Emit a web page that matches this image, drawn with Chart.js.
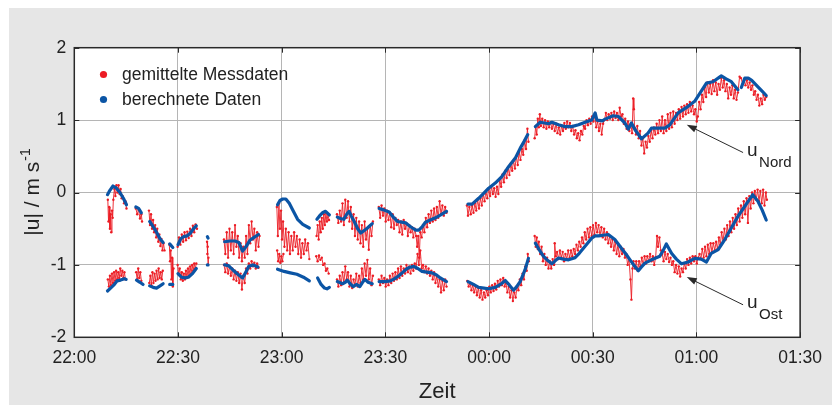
<!DOCTYPE html>
<html>
<head>
<meta charset="utf-8">
<script src="https://cdn.jsdelivr.net/npm/chart.js@4/dist/chart.umd.min.js"></script>
<style>
  html, body { margin: 0; padding: 0; background: #fff; }
  #wrap { width: 832px; height: 405px; }
</style>
</head>
<body>
<div id="wrap"><canvas id="chart" width="832" height="405"></canvas></div>
<script>
// time axis: minutes after 22:00
const xTickLabels = ["22:00", "22:30", "23:00", "23:30", "00:00", "00:30", "01:00", "01:30"];
const yTickLabels = { "2": "2", "1": "1", "0": "0", "-1": "-1", "-2": "-2" };

// berechnete Daten, Nord-Komponente (null = Lücke)
const calcNord = [
  [9.6,-0.03],[10.3,0.03],[11.2,0.09],[12.2,0.06],[13.2,0.0],[14.2,-0.08],[15.1,-0.17], null,
  [17.8,-0.2],[18.6,-0.22],[19.4,-0.28], null,
  [21.8,-0.4],[22.8,-0.47],[23.8,-0.55],[24.8,-0.64],[25.7,-0.69], null,
  [27.6,-0.71],[28.5,-0.76], null,
  [30.0,-0.72],[30.8,-0.64],[31.6,-0.61],[32.6,-0.6],[33.6,-0.56],[34.5,-0.5],[35.3,-0.46], null,
  [38.5,-0.61],[38.7,-0.63], null,
  [43.5,-0.68],[45.0,-0.67],[46.5,-0.67],[47.6,-0.69],[48.7,-0.81],[49.8,-0.74],[50.8,-0.66],[52.0,-0.62],[53.3,-0.58], null,
  [58.8,-0.17],[59.5,-0.11],[60.3,-0.09],[61.2,-0.09],[62.2,-0.15],[63.2,-0.24],[64.6,-0.37],[66.1,-0.44],[68.0,-0.49], null,
  [70.2,-0.37],[71.0,-0.32],[71.8,-0.28],[72.7,-0.26],[73.8,-0.31], null,
  [76.1,-0.34],[77.0,-0.36],[78.0,-0.37],[78.8,-0.3],[79.5,-0.26],[80.2,-0.33],[81.0,-0.40],[82.0,-0.5],[82.9,-0.56],[84.0,-0.52],[84.8,-0.49],[86.2,-0.43], null,
  [88.2,-0.22],[89.5,-0.24],[91.1,-0.27],[92.3,-0.34],[93.5,-0.40],[94.7,-0.41],[95.9,-0.42],[97.5,-0.48],[98.8,-0.52],[99.7,-0.52],[100.7,-0.47],[101.6,-0.41],[103.0,-0.38],[104.5,-0.35],[106.0,-0.31],[107.7,-0.26], null,
  [113.9,-0.16],[115.1,-0.16],[117.0,-0.08],[118.5,-0.01],[119.9,0.06],[121.8,0.13],[123.7,0.22],[125.7,0.36],[127.6,0.475],[129.0,0.61],[130.2,0.71],[131.2,0.80], null,
  [133.4,0.91],[134.8,0.97],[136.1,0.96],[137.2,0.95],[138.2,0.97],[140.1,0.935],[142.0,0.91],[143.9,0.91],[145.9,0.935],[147.8,0.97],[149.7,1.0],[150.7,1.10],[151.2,1.0],[152.9,0.99],[153.4,1.01],[155.9,1.06],[157.4,1.05],[159.3,0.96],[160.3,0.875],[161.2,0.96],[162.2,0.87],[164.1,0.74],[166.0,0.82],[167.0,0.89],[168.5,0.89],[170.9,0.89],[172.3,0.935],[174.7,1.10],[177.6,1.19],[179.5,1.26],[181.4,1.40],[182.9,1.51],[184.8,1.53],[187.2,1.61],[188.6,1.57],[190.1,1.53],[192.0,1.42], null,
  [193.0,1.45],[194.0,1.58],[195.0,1.58],[196.0,1.55],[197.8,1.46],[199.0,1.40],[200.2,1.34]
];

// berechnete Daten, Ost-Komponente
const calcOst = [
  [9.6,-1.36],[10.5,-1.32],[11.4,-1.28],[12.4,-1.22],[13.4,-1.21],[14.5,-1.19],[15.0,-1.2], null,
  [18.0,-1.21],[19.0,-1.24],[19.9,-1.27], null,
  [21.8,-1.29],[22.8,-1.31],[23.8,-1.32],[24.8,-1.29],[25.7,-1.26], null,
  [27.6,-1.27],[28.5,-1.27], null,
  [30.0,-1.12],[31.0,-1.17],[32.0,-1.18],[33.0,-1.17],[34.2,-1.12],[35.3,-1.05], null,
  [38.5,-1.0],[38.7,-1.0], null,
  [43.5,-1.0],[44.6,-1.01],[45.9,-1.07],[47.3,-1.13],[48.7,-1.18],[49.6,-1.1],[50.5,-1.02],[51.7,-1.0],[53.1,-1.03], null,
  [58.8,-1.06],[60.7,-1.09],[62.5,-1.11],[64.4,-1.13],[66.3,-1.17],[68.0,-1.22], null,
  [70.4,-1.18],[71.4,-1.27],[72.4,-1.32],[73.1,-1.33],[73.8,-1.31], null,
  [76.1,-1.23],[77.6,-1.26],[78.4,-1.24],[79.0,-1.21],[79.8,-1.26],[80.7,-1.30],[81.6,-1.27],[82.6,-1.30],[83.4,-1.24],[84.1,-1.2],[85.0,-1.24],[86.2,-1.26], null,
  [88.2,-1.23],[89.8,-1.23],[91.5,-1.22],[92.7,-1.19],[93.9,-1.15],[95.1,-1.1],[96.3,-1.05],[97.3,-1.03],[98.2,-1.02],[99.4,-1.05],[100.6,-1.09],[102.0,-1.10],[103.5,-1.11],[104.8,-1.14],[105.9,-1.18],[107.7,-1.23], null,
  [113.9,-1.23],[115.5,-1.27],[117.0,-1.31],[118.5,-1.32],[119.9,-1.33],[121.8,-1.31],[123.3,-1.27],[124.7,-1.215],[125.9,-1.28],[127.1,-1.35],[128.0,-1.3],[129.0,-1.23],[129.7,-1.15],[130.4,-1.07],[131.4,-0.91], null,
  [133.4,-0.70],[134.5,-0.79],[135.7,-0.88],[137.0,-0.94],[138.2,-0.985],[139.2,-0.94],[140.1,-0.905],[141.5,-0.92],[143.0,-0.93],[144.9,-0.9],[146.1,-0.84],[147.3,-0.77],[148.5,-0.7],[149.7,-0.63],[150.7,-0.6],[151.6,-0.6],[153.0,-0.59],[154.5,-0.58],[156.4,-0.65],[158.3,-0.77],[159.6,-0.85],[160.8,-0.93],[162.0,-1.01],[163.2,-1.08],[164.1,-1.03],[165.1,-0.975],[167.0,-0.93],[169.4,-0.88],[170.4,-0.8],[171.3,-0.71],[172.8,-0.84],[174.2,-0.92],[175.7,-0.985],[177.6,-0.96],[179.5,-0.91],[181.4,-0.92],[182.9,-0.96],[184.3,-0.84],[186.3,-0.79],[188.2,-0.65],[190.1,-0.49],[192.0,-0.33],[194.0,-0.19],[196.3,-0.03],[197.8,-0.12],[199.0,-0.24],[200.2,-0.38]
];

// gemittelte Messdaten, Nord
const measNord = [
  [9.7,-0.1],[9.9,-0.4],[10.1,-0.2],[10.3,-0.5],[10.5,-0.3],[10.7,-0.55],[10.9,-0.25],[11.1,-0.35],[11.3,-0.1],[11.6,0.05],[11.9,-0.05],[12.2,0.1],[12.5,0.0],[12.8,0.1],[13.1,-0.02],[13.4,0.05],[13.7,-0.08],[14.0,-0.05],[14.4,-0.15],[14.8,-0.12],[15.1,-0.22], null,
  [17.8,-0.22],[18.2,-0.3],[18.6,-0.24],[19.0,-0.36],[19.4,-0.3],[19.6,-0.4], null,
  [21.6,-0.25],[21.9,-0.45],[22.2,-0.3],[22.5,-0.5],[22.8,-0.38],[23.1,-0.55],[23.4,-0.45],[23.7,-0.62],[24.0,-0.5],[24.3,-0.68],[24.6,-0.58],[24.9,-0.74],[25.2,-0.64],[25.5,-0.8],[25.8,-0.7],[26.1,-0.8], null,
  [27.5,-0.72],[27.7,-0.95],[27.9,-0.8],[28.1,-1.2],[28.3,-0.9],[28.5,-1.3],[28.7,-1.05], null,
  [29.9,-0.75],[30.3,-0.62],[30.7,-0.72],[31.1,-0.58],[31.5,-0.68],[31.9,-0.55],[32.3,-0.66],[32.7,-0.54],[33.1,-0.63],[33.5,-0.5],[33.9,-0.6],[34.3,-0.46],[34.7,-0.55],[35.1,-0.44],[35.5,-0.5], null,
  [38.4,-0.68],[38.5,-0.85],[38.6,-0.75],[38.7,-1.0],[38.8,-0.9], null,
  [43.3,-0.65],[43.7,-0.85],[44.1,-0.55],[44.5,-0.9],[44.9,-0.5],[45.3,-0.8],[45.7,-0.55],[46.1,-0.85],[46.5,-0.45],[46.9,-0.75],[47.3,-0.6],[47.7,-0.9],[48.1,-0.7],[48.5,-0.95],[48.9,-0.75],[49.3,-0.9],[49.7,-0.6],[50.1,-0.85],[50.5,-0.45],[50.9,-0.7],[51.3,-0.4],[51.7,-0.65],[52.1,-0.5],[52.5,-0.8],[52.9,-0.55],[53.3,-0.75],[53.6,-0.6], null,
  [58.6,-0.2],[58.9,-0.6],[59.2,-0.15],[59.5,-0.5],[59.8,-0.25],[60.1,-0.65],[60.4,-0.4],[60.8,-0.75],[61.2,-0.5],[61.6,-0.8],[62.0,-0.55],[62.4,-0.85],[62.8,-0.6],[63.2,-0.8],[63.6,-0.55],[64.0,-0.75],[64.4,-0.6],[64.8,-0.85],[65.2,-0.65],[65.6,-0.9],[66.0,-0.7],[66.4,-0.85],[66.8,-0.65],[67.2,-0.8],[67.6,-0.7],[68.0,-0.92], null,
  [70.1,-0.6],[70.4,-0.45],[70.7,-0.65],[71.0,-0.4],[71.3,-0.55],[71.6,-0.35],[71.9,-0.5],[72.2,-0.3],[72.5,-0.45],[72.8,-0.28],[73.1,-0.4],[73.4,-0.3],[73.7,-0.38], null,
  [76.0,-0.3],[76.4,-0.42],[76.8,-0.25],[77.2,-0.4],[77.6,-0.15],[78.0,-0.45],[78.4,-0.1],[78.8,-0.35],[79.2,-0.12],[79.6,-0.4],[80.0,-0.2],[80.4,-0.5],[80.8,-0.3],[81.2,-0.6],[81.6,-0.35],[82.0,-0.65],[82.4,-0.4],[82.8,-0.7],[83.2,-0.45],[83.6,-0.75],[84.0,-0.4],[84.4,-0.65],[84.8,-0.5],[85.2,-0.79],[85.6,-0.45],[86.0,-0.6],[86.4,-0.4], null,
  [88.1,-0.2],[88.5,-0.35],[88.9,-0.18],[89.3,-0.32],[89.7,-0.22],[90.1,-0.4],[90.5,-0.25],[90.9,-0.38],[91.3,-0.28],[91.7,-0.48],[92.1,-0.3],[92.5,-0.5],[92.9,-0.35],[93.3,-0.45],[93.7,-0.38],[94.1,-0.55],[94.5,-0.4],[94.9,-0.58],[95.3,-0.38],[95.7,-0.5],[96.1,-0.42],[96.5,-0.6],[96.9,-0.45],[97.3,-0.55],[97.7,-0.48],[98.1,-0.62],[98.5,-0.5],[98.9,-0.6],[99.2,-0.75],[99.5,-0.6],[99.8,-0.9],[100.1,-0.55],[100.5,-0.62],[100.9,-0.45],[101.3,-0.55],[101.7,-0.35],[102.1,-0.48],[102.5,-0.3],[102.9,-0.42],[103.3,-0.25],[103.7,-0.4],[104.1,-0.22],[104.5,-0.38],[104.9,-0.2],[105.3,-0.35],[105.7,-0.12],[106.1,-0.3],[106.5,-0.18],[106.9,-0.32],[107.3,-0.2],[107.7,-0.28], null,
  [113.6,-0.18],[113.9,-0.32],[114.3,-0.2],[114.7,-0.3],[115.1,-0.18],[115.5,-0.28],[115.9,-0.15],[116.3,-0.25],[116.7,-0.1],[117.1,-0.22],[117.5,-0.08],[117.9,-0.18],[118.3,-0.02],[118.7,-0.12],[119.1,0.02],[119.5,-0.08],[119.9,0.05],[120.3,-0.05],[120.7,0.08],[121.1,-0.02],[121.5,0.06],[121.9,-0.06],[122.3,0.08],[122.7,-0.02],[123.1,0.18],[123.5,0.08],[123.9,0.25],[124.3,0.14],[124.7,0.3],[125.1,0.2],[125.5,0.35],[125.9,0.24],[126.3,0.4],[126.7,0.3],[127.1,0.44],[127.5,0.33],[127.9,0.5],[128.3,0.38],[128.7,0.56],[129.1,0.45],[129.5,0.6],[129.9,0.52],[130.3,0.72],[130.7,0.6],[131.1,0.88],[131.4,0.7], null,
  [133.2,0.75],[133.5,0.92],[133.8,0.8],[134.1,1.02],[134.4,0.9],[134.7,1.08],[135.0,0.92],[135.4,1.02],[135.8,0.9],[136.2,1.0],[136.6,0.88],[137.0,0.98],[137.4,0.9],[137.8,0.97],[138.2,0.88],[138.6,0.95],[139.0,0.85],[139.4,0.95],[139.8,0.82],[140.2,0.9],[140.6,0.8],[141.0,0.92],[141.4,0.85],[141.8,0.96],[142.2,0.88],[142.6,0.98],[143.0,0.9],[143.4,0.96],[143.8,0.85],[144.2,0.92],[144.6,0.8],[145.0,0.86],[145.4,0.75],[145.8,0.82],[146.2,0.72],[146.6,0.85],[147.0,0.8],[147.4,0.92],[147.8,0.88],[148.2,1.0],[148.6,0.93],[149.0,1.02],[149.4,0.95],[149.8,1.05],[150.2,0.98],[150.6,1.06],[151.0,0.9],[151.4,0.98],[151.8,0.85],[152.2,0.95],[152.6,0.8],[153.0,0.95],[153.4,1.0],[153.8,1.1],[154.2,1.0],[154.6,1.08],[155.0,1.02],[155.4,1.1],[155.8,1.0],[156.2,1.12],[156.6,1.03],[157.0,1.1],[157.4,1.0],[157.8,1.17],[158.2,1.05],[158.6,1.08],[159.0,0.95],[159.4,1.02],[159.8,0.88],[160.2,0.98],[160.6,0.85],[161.0,0.95],[161.4,0.82],[161.7,1.3],[161.9,1.15],[162.1,0.9],[162.5,0.8],[162.9,0.92],[163.3,0.75],[163.7,0.85],[164.1,0.65],[164.5,0.75],[164.9,0.54],[165.3,0.7],[165.7,0.62],[166.1,0.78],[166.5,0.7],[166.9,0.86],[167.3,0.75],[167.7,0.9],[168.1,0.8],[168.5,0.95],[168.9,0.82],[169.3,1.0],[169.7,0.85],[170.1,1.05],[170.5,0.82],[170.9,1.0],[171.3,0.85],[171.7,1.08],[172.1,0.88],[172.5,1.1],[172.9,0.9],[173.3,1.12],[173.7,0.95],[174.1,1.1],[174.5,1.0],[174.9,1.15],[175.3,1.02],[175.7,1.18],[176.1,1.05],[176.5,1.2],[176.9,1.08],[177.3,1.22],[177.7,1.1],[178.1,1.25],[178.5,1.12],[178.9,1.2],[179.3,1.08],[179.7,1.15],[180.1,0.98],[180.4,1.05],[180.8,1.25],[181.2,1.15],[181.6,1.35],[182.0,1.25],[182.4,1.45],[182.8,1.32],[183.2,1.52],[183.6,1.38],[184.0,1.5],[184.4,1.36],[184.8,1.55],[185.2,1.4],[185.6,1.52],[186.0,1.35],[186.4,1.5],[186.8,1.42],[187.2,1.58],[187.6,1.45],[188.0,1.55],[188.4,1.4],[188.8,1.5],[189.2,1.3],[189.6,1.45],[190.0,1.35],[190.4,1.48],[190.8,1.3],[191.2,1.42],[191.6,1.28],[192.0,1.38],[192.5,1.6],[192.9,1.58],[193.4,1.5],[193.8,1.56],[194.2,1.48],[194.6,1.55],[195.0,1.45],[195.4,1.52],[195.8,1.42],[196.2,1.48],[196.6,1.35],[197.0,1.4],[197.4,1.28],[197.8,1.35],[198.2,1.2],[198.6,1.3],[199.0,1.22],[199.4,1.35],[199.8,1.28],[200.2,1.32]
];

// gemittelte Messdaten, Ost
const measOst = [
  [9.7,-1.2],[10.0,-1.3],[10.3,-1.15],[10.6,-1.28],[10.9,-1.12],[11.2,-1.25],[11.5,-1.1],[11.8,-1.22],[12.1,-1.08],[12.4,-1.2],[12.7,-1.1],[13.0,-1.18],[13.3,-1.05],[13.6,-1.15],[13.9,-1.08],[14.2,-1.18],[14.5,-1.1],[14.8,-1.2], null,
  [17.9,-1.1],[18.2,-1.2],[18.5,-1.05],[18.8,-1.18],[19.1,-1.1],[19.4,-1.22], null,
  [21.7,-1.25],[22.0,-1.15],[22.3,-1.28],[22.6,-1.1],[22.9,-1.25],[23.2,-1.12],[23.5,-1.22],[23.8,-1.08],[24.1,-1.2],[24.4,-1.05],[24.7,-1.18],[25.0,-1.1],[25.3,-1.2],[25.6,-1.08], null,
  [29.9,-1.0],[30.2,-1.12],[30.5,-1.05],[30.8,-1.2],[31.1,-1.1],[31.4,-1.22],[31.7,-1.12],[32.0,-1.2],[32.3,-1.08],[32.6,-1.18],[32.9,-1.05],[33.2,-1.15],[33.5,-1.02],[33.8,-1.12],[34.1,-1.0],[34.4,-1.08],[34.7,-0.98],[35.0,-1.05],[35.3,-0.98], null,
  [43.3,-1.0],[43.7,-1.1],[44.1,-0.98],[44.5,-1.12],[44.9,-1.02],[45.3,-1.15],[45.7,-1.05],[46.1,-1.2],[46.5,-1.08],[46.9,-1.22],[47.3,-1.1],[47.7,-1.25],[48.1,-1.12],[48.5,-1.34],[48.9,-1.15],[49.3,-1.25],[49.7,-1.05],[50.1,-1.12],[50.5,-0.98],[50.9,-1.05],[51.3,-0.95],[51.7,-1.02],[52.1,-0.97],[52.5,-1.05],[52.9,-0.98],[53.3,-1.04], null,
  [58.7,-0.8],[59.0,-0.95],[59.3,-0.85],[59.6,-0.97],[59.9,-0.88],[60.2,-0.95],[60.5,-0.85], null,
  [70.0,-0.88],[70.4,-0.95],[70.8,-0.87],[71.2,-0.93],[71.6,-0.9],[72.0,-1.0],[72.4,-0.98],[72.8,-1.08],[73.2,-1.05],[73.6,-1.12], null,
  [76.0,-1.2],[76.4,-1.3],[76.8,-1.15],[77.2,-1.28],[77.6,-1.1],[78.0,-1.25],[78.4,-1.02],[78.8,-1.2],[79.2,-1.1],[79.6,-1.3],[80.0,-1.15],[80.4,-1.32],[80.8,-1.2],[81.2,-1.28],[81.6,-1.12],[82.0,-1.3],[82.4,-1.15],[82.8,-1.25],[83.2,-1.05],[83.6,-1.2],[84.0,-0.98],[84.4,-1.15],[84.8,-0.93],[85.2,-1.2],[85.6,-1.05],[86.0,-1.28],[86.4,-1.15], null,
  [88.1,-1.2],[88.5,-1.28],[88.9,-1.15],[89.3,-1.25],[89.7,-1.18],[90.1,-1.3],[90.5,-1.2],[90.9,-1.28],[91.3,-1.15],[91.7,-1.25],[92.1,-1.12],[92.5,-1.22],[92.9,-1.1],[93.3,-1.2],[93.7,-1.05],[94.1,-1.18],[94.5,-1.02],[94.9,-1.15],[95.3,-1.05],[95.7,-1.12],[96.1,-1.0],[96.5,-1.1],[96.9,-1.02],[97.3,-1.12],[97.7,-1.0],[98.1,-1.08],[98.5,-0.98],[98.9,-1.05],[99.3,-0.85],[99.7,-1.0],[100.1,-0.8],[100.5,-1.05],[100.9,-1.0],[101.3,-1.1],[101.7,-1.02],[102.1,-1.12],[102.5,-1.05],[102.9,-1.15],[103.3,-1.08],[103.7,-1.2],[104.1,-1.1],[104.5,-1.25],[104.9,-1.15],[105.3,-1.3],[105.7,-1.2],[106.1,-1.38],[106.5,-1.22],[106.9,-1.35],[107.3,-1.2],[107.7,-1.3], null,
  [113.7,-1.22],[114.1,-1.3],[114.5,-1.25],[114.9,-1.35],[115.3,-1.28],[115.7,-1.38],[116.1,-1.3],[116.5,-1.42],[116.9,-1.32],[117.3,-1.45],[117.7,-1.35],[118.1,-1.48],[118.5,-1.38],[118.9,-1.45],[119.3,-1.35],[119.7,-1.42],[120.1,-1.3],[120.5,-1.38],[120.9,-1.28],[121.3,-1.36],[121.7,-1.26],[122.1,-1.34],[122.5,-1.22],[122.9,-1.3],[123.3,-1.2],[123.7,-1.28],[124.1,-1.18],[124.5,-1.3],[124.9,-1.25],[125.3,-1.38],[125.7,-1.3],[126.1,-1.45],[126.5,-1.35],[126.9,-1.5],[127.3,-1.38],[127.7,-1.45],[128.1,-1.3],[128.5,-1.35],[128.9,-1.2],[129.3,-1.28],[129.7,-1.12],[130.1,-1.2],[130.5,-1.02],[130.9,-1.08],[131.2,-0.85],[131.5,-0.95], null,
  [133.2,-0.6],[133.5,-0.75],[133.8,-0.62],[134.1,-0.78],[134.4,-0.68],[134.8,-0.85],[135.2,-0.75],[135.6,-0.95],[136.0,-0.85],[136.4,-1.0],[136.8,-0.9],[137.2,-1.05],[137.6,-0.95],[138.0,-1.05],[138.4,-0.92],[138.8,-1.0],[139.0,-0.7],[139.3,-0.88],[139.7,-0.82],[140.1,-0.92],[140.5,-0.8],[140.9,-0.9],[141.3,-0.82],[141.7,-0.95],[142.1,-0.85],[142.5,-0.92],[142.9,-0.8],[143.3,-0.9],[143.7,-0.8],[144.1,-0.88],[144.5,-0.78],[144.9,-0.85],[145.3,-0.72],[145.7,-0.8],[146.1,-0.68],[146.5,-0.75],[146.9,-0.62],[147.3,-0.7],[147.7,-0.55],[148.1,-0.65],[148.5,-0.5],[148.9,-0.62],[149.3,-0.48],[149.7,-0.6],[150.1,-0.45],[150.5,-0.58],[150.9,-0.42],[151.3,-0.55],[151.7,-0.45],[152.1,-0.6],[152.5,-0.48],[152.9,-0.62],[153.3,-0.5],[153.7,-0.65],[154.1,-0.55],[154.5,-0.7],[154.9,-0.6],[155.3,-0.75],[155.7,-0.65],[156.1,-0.8],[156.5,-0.68],[156.9,-0.85],[157.3,-0.72],[157.7,-0.88],[158.1,-0.75],[158.5,-0.85],[158.9,-0.78],[159.3,-0.9],[159.7,-0.85],[160.1,-1.0],[160.5,-0.92],[160.9,-1.2],[161.2,-1.48],[161.5,-1.05],[161.8,-0.95],[162.2,-1.05],[162.6,-0.95],[163.0,-1.08],[163.4,-0.95],[163.8,-1.02],[164.2,-0.9],[164.6,-1.0],[165.0,-0.88],[165.4,-0.98],[165.8,-0.88],[166.2,-0.95],[166.6,-0.85],[167.0,-0.95],[167.4,-0.88],[167.8,-1.0],[168.2,-0.9],[168.6,-0.6],[168.9,-0.75],[169.3,-0.62],[169.7,-0.8],[170.1,-0.85],[170.5,-0.95],[170.9,-0.82],[171.3,-0.92],[171.7,-0.85],[172.1,-0.96],[172.5,-0.9],[172.9,-1.0],[173.3,-0.95],[173.7,-1.1],[174.1,-1.0],[174.5,-1.12],[174.9,-1.02],[175.3,-1.16],[175.7,-1.05],[176.1,-1.1],[176.5,-0.98],[176.9,-1.05],[177.3,-0.92],[177.7,-1.0],[178.1,-0.9],[178.5,-0.98],[178.9,-0.88],[179.3,-0.95],[179.7,-0.88],[180.1,-0.98],[180.5,-0.9],[180.9,-0.85],[181.3,-0.92],[181.7,-0.78],[182.1,-0.9],[182.5,-0.75],[182.9,-0.88],[183.3,-0.72],[183.7,-0.85],[184.1,-0.7],[184.5,-0.82],[184.9,-0.7],[185.3,-0.8],[185.7,-0.68],[186.1,-0.78],[186.5,-0.62],[186.9,-0.72],[187.3,-0.55],[187.7,-0.68],[188.1,-0.5],[188.5,-0.65],[188.9,-0.45],[189.3,-0.6],[189.7,-0.4],[190.1,-0.55],[190.5,-0.35],[190.9,-0.5],[191.3,-0.3],[191.7,-0.45],[192.1,-0.22],[192.5,-0.4],[192.9,-0.18],[193.3,-0.35],[193.7,-0.12],[194.1,-0.3],[194.5,-0.08],[194.9,-0.42],[195.3,-0.05],[195.7,-0.22],[196.1,0.0],[196.5,-0.15],[196.9,0.02],[197.3,-0.1],[197.7,0.04],[198.1,-0.12],[198.5,0.02],[198.9,-0.15],[199.3,0.04],[199.7,-0.18],[200.1,0.0],[200.4,-0.1]
];

// Pfeil-Beschriftungen: [Spitze], [Ende] in Datenkoordinaten
const arrowNord = { head: [177.2, 0.935], tail: [193.5, 0.552], sub: "Nord" };
const arrowOst = { head: [177.2, -1.168], tail: [193.5, -1.551], sub: "Ost" };

const FONT = "'Liberation Sans', Arial, sans-serif";
const RED = "#ec1c24";
const BLUE = "#0b55a5";
const TEXT = "#222";

function toPoints(list) {
  let last = 0;
  return list.map(p => {
    if (p === null) return { x: last, y: null };
    last = p[0];
    return { x: p[0], y: p[1] };
  });
}

function drawArrow(ctx, chart, a) {
  const xs = chart.scales.x, ys = chart.scales.y;
  const hx = xs.getPixelForValue(a.head[0]), hy = ys.getPixelForValue(a.head[1]);
  const tx = xs.getPixelForValue(a.tail[0]), ty = ys.getPixelForValue(a.tail[1]);
  const ang = Math.atan2(hy - ty, hx - tx);
  ctx.save();
  ctx.strokeStyle = "#2a2a2a";
  ctx.fillStyle = "#2a2a2a";
  ctx.lineWidth = 1;
  ctx.beginPath();
  ctx.moveTo(tx, ty);
  ctx.lineTo(hx - 6 * Math.cos(ang), hy - 6 * Math.sin(ang));
  ctx.stroke();
  ctx.beginPath();
  ctx.moveTo(hx, hy);
  ctx.lineTo(hx - 10 * Math.cos(ang) + 3.5 * Math.sin(ang), hy - 10 * Math.sin(ang) - 3.5 * Math.cos(ang));
  ctx.lineTo(hx - 10 * Math.cos(ang) - 3.5 * Math.sin(ang), hy - 10 * Math.sin(ang) + 3.5 * Math.cos(ang));
  ctx.closePath();
  ctx.fill();
  ctx.fillStyle = TEXT;
  ctx.textAlign = "left";
  ctx.textBaseline = "alphabetic";
  ctx.font = `19px ${FONT}`;
  ctx.fillText("u", tx + 4, ty + 3);
  ctx.font = `15px ${FONT}`;
  ctx.fillText(a.sub, tx + 16, ty + 14);
  ctx.restore();
}

const framePlugin = {
  id: "frame",
  beforeDraw(chart) {
    const { ctx, chartArea: a } = chart;
    ctx.save();
    ctx.fillStyle = "#fff";
    ctx.fillRect(0, 0, chart.width, chart.height);
    ctx.fillStyle = "#e6e6e6";
    ctx.fillRect(9, 8, chart.width - 9, chart.height - 8);
    ctx.fillStyle = "#fff";
    ctx.fillRect(a.left, a.top, a.right - a.left, a.bottom - a.top);
    ctx.restore();
  },
  afterDraw(chart) {
    const { ctx, chartArea: a, scales } = chart;
    ctx.save();
    // inward ticks
    ctx.strokeStyle = "#2a2a2a";
    ctx.lineWidth = 1;
    ctx.beginPath();
    scales.x.ticks.forEach(t => {
      const x = Math.round(scales.x.getPixelForValue(t.value)) + 0.5;
      ctx.moveTo(x, a.top); ctx.lineTo(x, a.top + 5);
      ctx.moveTo(x, a.bottom); ctx.lineTo(x, a.bottom - 5);
    });
    scales.y.ticks.forEach(t => {
      const y = Math.round(scales.y.getPixelForValue(t.value)) + 0.5;
      ctx.moveTo(a.left, y); ctx.lineTo(a.left + 5, y);
      ctx.moveTo(a.right, y); ctx.lineTo(a.right - 5, y);
    });
    ctx.stroke();
    // box
    ctx.lineWidth = 1.5;
    ctx.strokeRect(a.left, a.top, a.right - a.left, a.bottom - a.top);

    // legend
    ctx.textAlign = "left";
    ctx.textBaseline = "middle";
    ctx.font = `17.5px ${FONT}`;
    [[RED, "gemittelte Messdaten", 74.5], [BLUE, "berechnete Daten", 99.5]].forEach(([c, label, y]) => {
      ctx.fillStyle = c;
      ctx.beginPath();
      ctx.arc(103.5, y, 3.6, 0, Math.PI * 2);
      ctx.fill();
      ctx.fillStyle = TEXT;
      ctx.fillText(label, 122, y + 1);
    });

    // y title with superscript
    ctx.save();
    ctx.translate(39, (a.top + a.bottom) / 2);
    ctx.rotate(-Math.PI / 2);
    ctx.fillStyle = TEXT;
    ctx.textBaseline = "alphabetic";
    const main = "|u| / m s";
    ctx.font = `21px ${FONT}`;
    const w1 = ctx.measureText(main).width;
    ctx.font = `14px ${FONT}`;
    const w2 = ctx.measureText("-1").width;
    const x0 = -(w1 + w2) / 2;
    ctx.font = `21px ${FONT}`;
    ctx.fillText(main, x0, 0);
    ctx.font = `14px ${FONT}`;
    ctx.fillText("-1", x0 + w1 + 1, -9);
    ctx.restore();

    // x title
    ctx.fillStyle = TEXT;
    ctx.textAlign = "center";
    ctx.textBaseline = "alphabetic";
    ctx.font = `22px ${FONT}`;
    ctx.fillText("Zeit", (a.left + a.right) / 2, 398);

    drawArrow(ctx, chart, arrowNord);
    drawArrow(ctx, chart, arrowOst);
    ctx.restore();
  }
};

const redStyle = {
  showLine: true, spanGaps: false, borderColor: RED, borderWidth: 0.9,
  pointRadius: 1.2, pointBackgroundColor: RED, pointBorderWidth: 0, order: 2
};
const blueStyle = {
  showLine: true, spanGaps: false, borderColor: BLUE, borderWidth: 3.2,
  pointRadius: 0, borderCapStyle: "round", borderJoinStyle: "round", order: 1
};

new Chart(document.getElementById("chart"), {
  type: "scatter",
  data: {
    datasets: [
      { label: "gemittelte Messdaten Nord", data: toPoints(measNord), ...redStyle },
      { label: "gemittelte Messdaten Ost", data: toPoints(measOst), ...redStyle },
      { label: "berechnete Daten Nord", data: toPoints(calcNord), ...blueStyle },
      { label: "berechnete Daten Ost", data: toPoints(calcOst), ...blueStyle },
    ],
  },
  options: {
    responsive: false,
    animation: false,
    layout: { padding: { top: 47.7, right: 30, left: 0, bottom: 0 } },
    plugins: { legend: { display: false }, tooltip: { enabled: false } },
    scales: {
      x: {
        type: "linear", min: 0, max: 210,
        afterFit: s => { s.height = 67.7; },
        border: { display: false },
        grid: { color: "#b5b5b5", lineWidth: 1, drawTicks: false },
        ticks: {
          stepSize: 30, autoSkip: false, maxRotation: 0, padding: 10,
          color: TEXT, font: { family: FONT, size: 17.5 },
          callback: v => xTickLabels[Math.round(v / 30)],
        },
      },
      y: {
        min: -2, max: 2,
        afterFit: s => { s.width = 74.3; },
        border: { display: false },
        grid: { color: "#b5b5b5", lineWidth: 1, drawTicks: false },
        ticks: {
          stepSize: 1, padding: 8,
          color: TEXT, font: { family: FONT, size: 17.5 },
          callback: v => yTickLabels[String(v)],
        },
      },
    },
  },
  plugins: [framePlugin],
});
</script>
</body>
</html>
